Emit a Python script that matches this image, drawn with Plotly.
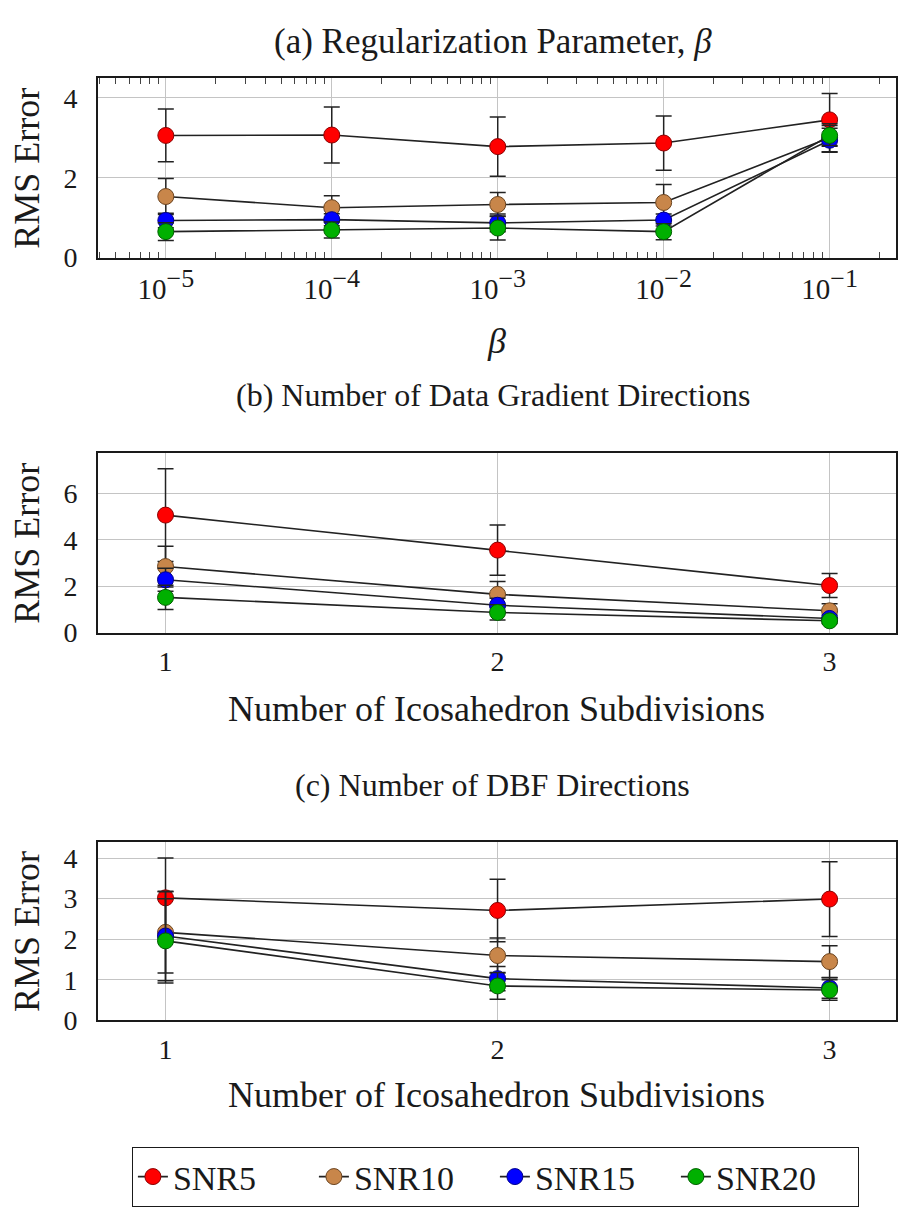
import plotly.graph_objects as go

# ---------------- data ----------------
series_names = ["SNR5", "SNR10", "SNR15", "SNR20"]
fill_colors = ["#ff0000", "#c8864a", "#0000ff", "#00b000"]
edge_colors = ["#8b0000", "#6b4420", "#00008b", "#006000"]

# (a) Regularization parameter beta
beta_vals = [1e-5, 1e-4, 1e-3, 1e-2, 1e-1]
beta_exponents = ["−5", "−4", "−3", "−2", "−1"]
a_snr5 = [3.06, 3.07, 2.78, 2.87, 3.45]
a_snr10 = [1.53, 1.25, 1.33, 1.38, 3.00]
a_snr15 = [0.93, 0.95, 0.87, 0.94, 2.94]
a_snr20 = [0.65, 0.69, 0.74, 0.65, 3.06]
a_err5 = [0.66, 0.70, 0.74, 0.68, 0.66]
a_err10 = [0.45, 0.30, 0.30, 0.45, 0.35]
a_err15 = [0.18, 0.15, 0.22, 0.15, 0.30]
a_err20 = [0.22, 0.20, 0.30, 0.20, 0.25]

# (b) Number of data gradient directions
subdiv = [1, 2, 3]
b_snr5 = [5.07, 3.56, 2.03]
b_snr10 = [2.85, 1.65, 0.94]
b_snr15 = [2.28, 1.18, 0.61]
b_snr20 = [1.52, 0.87, 0.51]
b_err5 = [2.00, 1.08, 0.52]
b_err10 = [0.88, 0.55, 0.30]
b_err15 = [0.50, 0.30, 0.15]
b_err20 = [0.52, 0.33, 0.12]

# (c) Number of DBF directions
c_snr5 = [3.02, 2.71, 2.99]
c_snr10 = [2.17, 1.60, 1.45]
c_snr15 = [2.08, 1.03, 0.80]
c_snr20 = [1.96, 0.85, 0.75]
c_err5 = [0.98, 0.77, 0.92]
c_err10 = [1.00, 0.43, 0.39]
c_err15 = [1.10, 0.30, 0.25]
c_err20 = [1.04, 0.33, 0.25]

panel_titles = ["(a) Regularization Parameter, <i>β</i>",
                "(b) Number of Data Gradient Directions",
                "(c) Number of DBF Directions"]
x_titles = ["<i>β</i>", "Number of Icosahedron Subdivisions", "Number of Icosahedron Subdivisions"]
y_title = "RMS Error"

# ---------------- figure ----------------
W, H = 898, 1222
FONT = "Liberation Serif"
INK = "#1a1a1a"
fig = go.Figure()

beta_ticktext = ["10<sup><span style='font-size:26px'>%s</span></sup>" % e for e in beta_exponents]

panels = [
    (beta_vals, [a_snr5, a_snr10, a_snr15, a_snr20], [a_err5, a_err10, a_err15, a_err20]),
    (subdiv, [b_snr5, b_snr10, b_snr15, b_snr20], [b_err5, b_err10, b_err15, b_err20]),
    (subdiv, [c_snr5, c_snr10, c_snr15, c_snr20], [c_err5, c_err10, c_err15, c_err20]),
]

for p, (xs, ys_list, err_list) in enumerate(panels):
    suffix = "" if p == 0 else str(p + 1)
    for i, (ys, errs) in enumerate(zip(ys_list, err_list)):
        fig.add_trace(go.Scatter(
            x=xs, y=ys, mode="lines+markers", name=series_names[i],
            xaxis="x" + suffix, yaxis="y" + suffix,
            showlegend=(p == 0),
            line=dict(color="#222222", width=1.6),
            marker=dict(size=16, color=fill_colors[i], line=dict(color=edge_colors[i], width=1)),
            error_y=dict(type="data", array=errs, visible=True, color="#222222", thickness=1.5, width=8),
        ))

# invisible helper trace so the top (mirrored) log axis with minor ticks is drawn
fig.add_trace(go.Scatter(x=beta_vals, y=a_snr5, xaxis="x4", yaxis="y", mode="markers",
                         marker=dict(opacity=0), showlegend=False, hoverinfo="skip"))

# domains in pixels (top, bottom) -> paper
px_boxes = [(79, 261), (459, 641), (853, 1034)]
left_px = 98
dom_x = [left_px / W, 1.0]
dom_y = [[1 - b / H, 1 - t / H] for (t, b) in px_boxes]

axis_common = dict(showline=True, linecolor=INK, linewidth=1.5, mirror=True,
                   showgrid=True, gridcolor="#c4c4c4", gridwidth=1,
                   zeroline=False, ticks="", ticklen=0,
                   tickfont=dict(family=FONT, size=28, color=INK))

minor_vals = [m * 10 ** k for k in range(-6, 0) for m in range(2, 10)]

layout = dict(
    width=W, height=H, margin=dict(l=0, r=0, t=0, b=0),
    paper_bgcolor="white", plot_bgcolor="white",
    font=dict(family=FONT, color=INK),
)

# panel a axes
layout["xaxis"] = dict(axis_common, domain=dom_x, anchor="y", type="log",
                       range=[-5.41, -0.6], tickvals=beta_vals, ticktext=beta_ticktext,
                       ticklabelstandoff=5, tickfont=dict(family=FONT, size=29, color=INK),
                       minor=dict(tickvals=minor_vals, ticks="inside", ticklen=6,
                                  tickcolor="#444444", showgrid=False))
layout["xaxis4"] = dict(domain=dom_x, anchor="y", overlaying="x", side="top", type="log",
                        range=[-5.41, -0.6], showgrid=False, zeroline=False, showline=False,
                        tickvals=beta_vals, showticklabels=False, ticks="",
                        minor=dict(tickvals=minor_vals, ticks="inside", ticklen=6,
                                   tickcolor="#444444", showgrid=False))
layout["yaxis"] = dict(axis_common, domain=dom_y[0], anchor="x", range=[0, 4.5],
                       tickvals=[0, 2, 4], ticklabelstandoff=13)
# panel b axes
layout["xaxis2"] = dict(axis_common, domain=dom_x, anchor="y2", range=[0.796, 3.2],
                        tickvals=subdiv, ticklabelstandoff=3)
layout["yaxis2"] = dict(axis_common, domain=dom_y[1], anchor="x2", range=[0, 7.75],
                        tickvals=[0, 2, 4, 6], ticklabelstandoff=13)
# panel c axes
layout["xaxis3"] = dict(axis_common, domain=dom_x, anchor="y3", range=[0.796, 3.2],
                        tickvals=subdiv, ticklabelstandoff=3)
layout["yaxis3"] = dict(axis_common, domain=dom_y[2], anchor="x3", range=[0, 4.4],
                        tickvals=[0, 1, 2, 3, 4], ticklabelstandoff=13)

layout["legend"] = dict(orientation="h", x=132 / W, y=1 - 1162 / H, xanchor="left", yanchor="top",
                        bordercolor=INK, borderwidth=1.2, bgcolor="white",
                        font=dict(family=FONT, size=34, color=INK),
                        itemwidth=30, entrywidth=136, entrywidthmode="pixels", tracegroupgap=0)

fig.update_layout(**layout)

# titles and axis labels as annotations
title_y_px = [42, 400, 795]
title_sizes = [35, 32, 32]
xtitle_y_px = [346, 718, 1110]
center_x = 494 / W
for p in range(3):
    fig.add_annotation(text=panel_titles[p], xref="paper", yref="paper",
                       x=center_x, y=1 - title_y_px[p] / H, xanchor="center", yanchor="middle",
                       showarrow=False, font=dict(family=FONT, size=title_sizes[p], color=INK))
    fig.add_annotation(text=x_titles[p], xref="paper", yref="paper",
                       x=(dom_x[0] + dom_x[1]) / 2, y=1 - xtitle_y_px[p] / H,
                       xanchor="center", yanchor="middle",
                       showarrow=False, font=dict(family=FONT, size=36, color=INK))
    t, b = px_boxes[p]
    fig.add_annotation(text=y_title, xref="paper", yref="paper", textangle=-90,
                       x=27 / W, y=1 - ((t + b) / 2) / H, xanchor="center", yanchor="middle",
                       showarrow=False, font=dict(family=FONT, size=36, color=INK))

fig.write_html("out.html")
